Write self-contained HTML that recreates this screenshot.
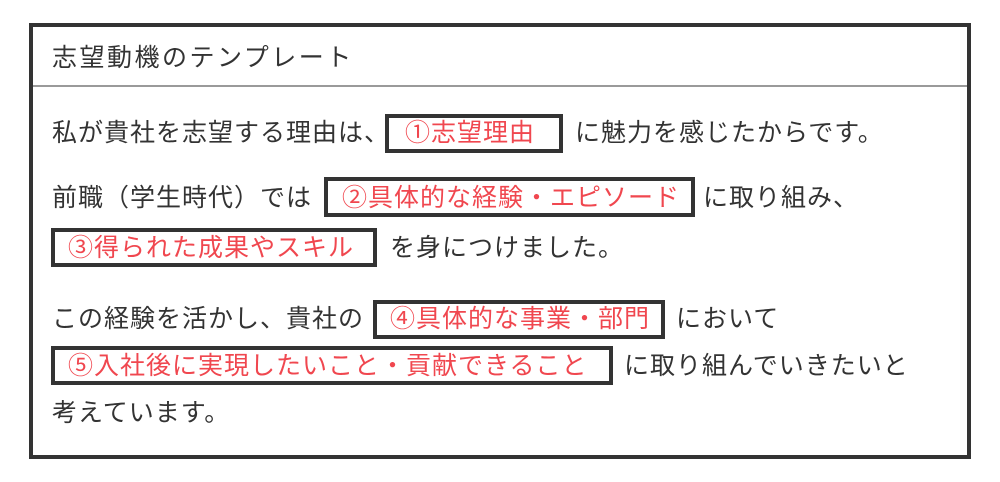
<!DOCTYPE html>
<html><head><meta charset="utf-8"><style>
html,body{margin:0;padding:0;background:#fff;}
body{width:1000px;height:482px;position:relative;overflow:hidden;font-family:"Liberation Sans","Noto Sans CJK JP",sans-serif;color:#333;}
.frame{position:absolute;left:29px;top:23px;width:934px;height:428px;border:4px solid #333;}
.hl{position:absolute;left:33px;top:85px;width:934px;height:2px;background:#9a9a9a;}
.t{position:absolute;font-size:25px;letter-spacing:1px;line-height:30px;white-space:nowrap;}
.b{position:absolute;border:4px solid #333;box-sizing:border-box;}
.r{color:#f0474f;}
</style></head><body>
<div class="frame"></div>
<div class="hl"></div>
<div class="t" style="left:52px;top:43px;letter-spacing:2.5px">志望動機のテンプレート</div>

<div class="t" style="left:52px;top:118px">私が貴社を志望する理由は、</div>
<div class="b" style="left:385px;top:114px;width:178px;height:39px"></div>
<div class="t r" style="left:405px;top:118px">①志望理由</div>
<div class="t" style="left:575px;top:118px">に魅力を感じたからです。</div>

<div class="t" style="left:52px;top:183px">前職（学生時代）では</div>
<div class="b" style="left:324px;top:177px;width:371px;height:40px"></div>
<div class="t r" style="left:342px;top:183px">②具体的な経験・エピソード</div>
<div class="t" style="left:703px;top:183px">に取り組み、</div>

<div class="b" style="left:51px;top:228px;width:326px;height:39px"></div>
<div class="t r" style="left:68px;top:233px">③得られた成果やスキル</div>
<div class="t" style="left:390px;top:233px">を身につけました。</div>

<div class="t" style="left:52px;top:304px">この経験を活かし、貴社の</div>
<div class="b" style="left:373px;top:300px;width:292px;height:39px"></div>
<div class="t r" style="left:390px;top:304px">④具体的な事業・部門</div>
<div class="t" style="left:676px;top:304px">において</div>

<div class="b" style="left:51px;top:346px;width:562px;height:39px"></div>
<div class="t r" style="left:68px;top:351px">⑤入社後に実現したいこと・貢献できること</div>
<div class="t" style="left:624px;top:351px">に取り組んでいきたいと</div>

<div class="t" style="left:52px;top:398px">考えています。</div>
</body></html>
